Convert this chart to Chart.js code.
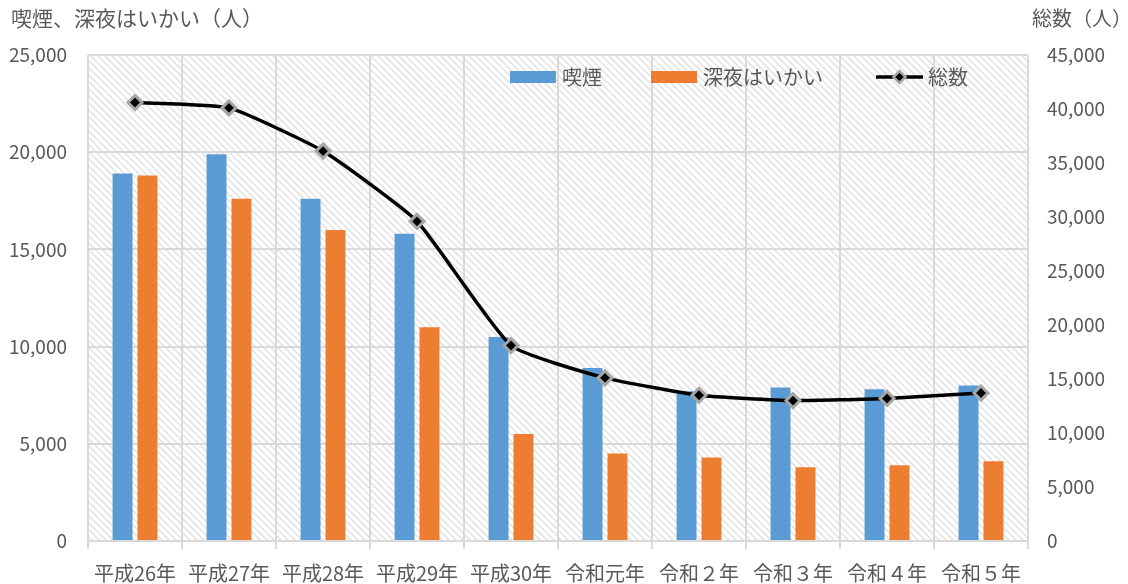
<!DOCTYPE html>
<html lang="ja">
<head>
<meta charset="UTF-8">
<script src="https://cdn.jsdelivr.net/npm/chart.js"></script>
<title>喫煙・深夜はいかい</title>
<style>
    body {
        margin: 0;
        background: #ffffff;
    }
    #wrap {
        width: 1128px;
        height: 584px;
        position: relative;
    }
</style>
</head>
<body>
<div id="wrap"><canvas id="chart"></canvas></div>
<script>
    const categories = ['平成26年', '平成27年', '平成28年', '平成29年', '平成30年', '令和元年', '令和２年', '令和３年', '令和４年', '令和５年'];
    const smoking = [18900, 19900, 17600, 15800, 10500, 8900, 7700, 7900, 7800, 8000];
    const lateNight = [18800, 17600, 16000, 11000, 5500, 4500, 4300, 3800, 3900, 4100];
    const total = [40600, 40100, 36100, 29600, 18100, 15100, 13500, 13000, 13200, 13700];

    const leftTitle = '喫煙、深夜はいかい（人）';
    const rightTitle = '総数（人）';

    const textColor = '#595959';
    const gridColor = '#d9d9d9';
    const cjkFont = '"Noto Sans CJK JP", "Noto Sans", sans-serif';

    // diagonal hatch for the plot background
    function hatchPattern(ctx) {
        const s = 7;
        const pc = document.createElement('canvas');
        pc.width = s;
        pc.height = s;
        const g = pc.getContext('2d');
        g.fillStyle = '#ffffff';
        g.fillRect(0, 0, s, s);
        g.strokeStyle = '#e0e0e0';
        g.lineWidth = 1.4;
        g.beginPath();
        g.moveTo(-1, -1); g.lineTo(s + 1, s + 1);
        g.moveTo(s - 2, -2); g.lineTo(s + 2, 2);
        g.moveTo(-2, s - 2); g.lineTo(2, s + 2);
        g.stroke();
        return ctx.createPattern(pc, 'repeat');
    }

    const backdrop = {
        id: 'backdrop',
        beforeDraw(chart) {
            const {ctx, chartArea: a} = chart;
            ctx.save();
            ctx.fillStyle = hatchPattern(ctx);
            ctx.fillRect(a.left, a.top, a.right - a.left, a.bottom - a.top);
            ctx.restore();
        }
    };

    // axis titles sit horizontally above each axis
    const axisTitles = {
        id: 'axisTitles',
        afterDraw(chart) {
            const ctx = chart.ctx;
            ctx.save();
            ctx.fillStyle = textColor;
            ctx.textBaseline = 'middle';
            ctx.textAlign = 'left';
            ctx.font = '21px ' + cjkFont;
            ctx.fillText(leftTitle, 11, 18);
            ctx.font = '20px ' + cjkFont;
            ctx.fillText(rightTitle, 1032, 18);
            ctx.restore();
        }
    };

    // legend drawn inside the plot area along the top
    const innerLegend = {
        id: 'innerLegend',
        afterDatasetsDraw(chart) {
            const ctx = chart.ctx;
            const ds = chart.data.datasets;
            const y = 77;
            const items = [
                {x: 510, d: ds[0]},
                {x: 651, d: ds[1]},
                {x: 876, d: ds[2]}
            ];
            ctx.save();
            ctx.font = '20px ' + cjkFont;
            ctx.textBaseline = 'middle';
            ctx.textAlign = 'left';
            for (const it of items) {
                if (it.d.type === 'line') {
                    ctx.strokeStyle = it.d.borderColor;
                    ctx.lineWidth = it.d.borderWidth;
                    ctx.beginPath();
                    ctx.moveTo(it.x, y);
                    ctx.lineTo(it.x + 47, y);
                    ctx.stroke();
                    const cx = it.x + 23.5, r = 6;
                    ctx.beginPath();
                    ctx.moveTo(cx, y - r); ctx.lineTo(cx + r, y); ctx.lineTo(cx, y + r); ctx.lineTo(cx - r, y);
                    ctx.closePath();
                    ctx.fillStyle = it.d.pointBackgroundColor;
                    ctx.fill();
                    ctx.strokeStyle = it.d.pointBorderColor;
                    ctx.lineWidth = 2.5;
                    ctx.stroke();
                } else {
                    ctx.fillStyle = it.d.backgroundColor;
                    ctx.fillRect(it.x, y - 6, 46, 12);
                }
                ctx.fillStyle = textColor;
                ctx.fillText(it.d.label, it.x + 52, y);
            }
            ctx.restore();
        }
    };

    const ctx = document.getElementById('chart').getContext('2d');
    new Chart(ctx, {
        data: {
            labels: categories,
            datasets: [
                {
                    type: 'bar',
                    label: '喫煙',
                    data: smoking,
                    backgroundColor: '#5b9bd5',
                    yAxisID: 'y',
                    order: 1,
                    categoryPercentage: 0.53,
                    barPercentage: 0.8
                },
                {
                    type: 'bar',
                    label: '深夜はいかい',
                    data: lateNight,
                    backgroundColor: '#ed7d31',
                    yAxisID: 'y',
                    order: 1,
                    categoryPercentage: 0.53,
                    barPercentage: 0.8
                },
                {
                    type: 'line',
                    label: '総数',
                    data: total,
                    yAxisID: 'y1',
                    order: 0,
                    borderColor: '#000000',
                    borderWidth: 3.5,
                    tension: 0.15,
                    pointStyle: 'rectRot',
                    pointRadius: 7,
                    pointBackgroundColor: '#000000',
                    pointBorderColor: '#a6a6a6',
                    pointBorderWidth: 3
                }
            ]
        },
        options: {
            responsive: true,
            maintainAspectRatio: false,
            animation: false,
            layout: {padding: {top: 55}},
            plugins: {
                legend: {display: false},
                tooltip: {enabled: false}
            },
            scales: {
                x: {
                    offset: true,
                    grid: {
                        offset: true,
                        color: gridColor,
                        lineWidth: 2,
                        drawTicks: true,
                        tickLength: 8
                    },
                    border: {color: gridColor, width: 2},
                    ticks: {
                        color: textColor,
                        font: {family: cjkFont, size: 20},
                        padding: 12,
                        maxRotation: 0,
                        autoSkip: false
                    },
                    afterFit(scale) { scale.height = 43; }
                },
                y: {
                    position: 'left',
                    min: 0,
                    max: 25000,
                    grid: {color: gridColor, lineWidth: 2, drawTicks: false},
                    border: {display: false},
                    ticks: {
                        stepSize: 5000,
                        color: textColor,
                        padding: 21,
                        font: {family: cjkFont, size: 19},
                        callback: v => v.toLocaleString('en-US')
                    },
                    afterFit(scale) { scale.width = 88; }
                },
                y1: {
                    position: 'right',
                    min: 0,
                    max: 45000,
                    grid: {display: false, drawTicks: false},
                    border: {display: false},
                    ticks: {
                        stepSize: 5000,
                        color: textColor,
                        padding: 19,
                        font: {family: cjkFont, size: 19},
                        callback: v => v.toLocaleString('en-US')
                    },
                    afterFit(scale) { scale.width = 100; }
                }
            }
        },
        plugins: [backdrop, axisTitles, innerLegend]
    });
</script>
</body>
</html>
